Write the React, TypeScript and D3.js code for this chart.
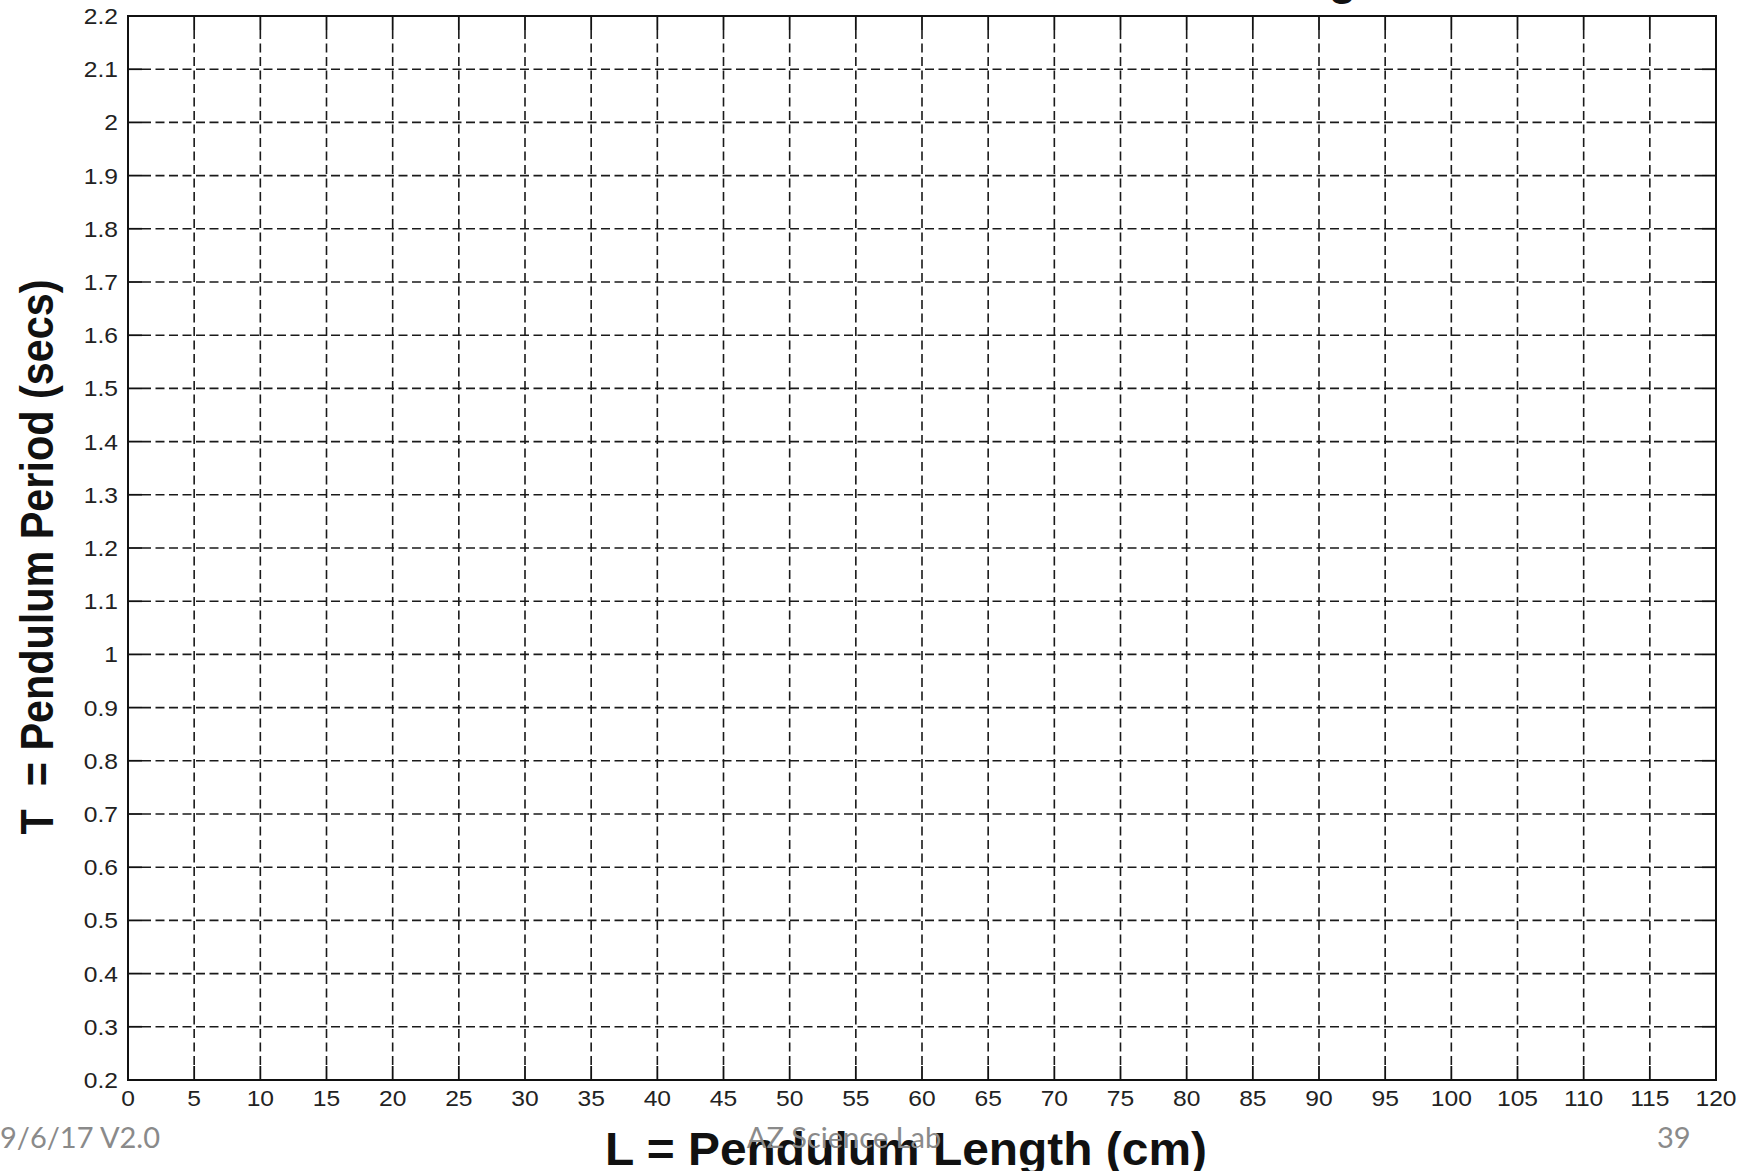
import { useEffect, useRef } from "react";
import * as d3 from "d3";

// axis values
const xTicks = [0, 5, 10, 15, 20, 25, 30, 35, 40, 45, 50, 55, 60, 65, 70, 75, 80, 85, 90, 95, 100, 105, 110, 115, 120];
const yTicks = [0.2, 0.3, 0.4, 0.5, 0.6, 0.7, 0.8, 0.9, 1, 1.1, 1.2, 1.3, 1.4, 1.5, 1.6, 1.7, 1.8, 1.9, 2, 2.1, 2.2];
const xTitle = "L = Pendulum Length (cm)";
const yTitle = "T  = Pendulum Period (secs)";
const topTitle = "Pendulum Period vs. Length";
const footerLeft = "9/6/17 V2.0";
const footerMid = "AZ Science Lab";
const footerRight = "39";

const W = 1756, H = 1171;
const M = { left: 128, right: 40, top: 16, bottom: 91 };
const SANS = "'Liberation Sans', Arial, Helvetica, sans-serif";

export default function App() {
  const ref = useRef<SVGSVGElement>(null);

  useEffect(() => {
    const el = ref.current;
    if (!el) return;
    const svg = d3.select(el);
    svg.selectAll("*").remove();

    const x = d3.scaleLinear().domain([0, 120]).range([M.left, W - M.right]);
    const y = d3.scaleLinear().domain([0.2, 2.2]).range([H - M.bottom, M.top]);
    const [x0, x1] = x.range();
    const [y0, y1] = y.range();
    const tickLen = 14;

    svg.append("rect").attr("width", W).attr("height", H).attr("fill", "#fff");

    // clipped title at the very top (only its descender shows)
    svg.append("text").attr("x", 1400).attr("y", -6).attr("text-anchor", "end")
      .attr("font-family", SANS).attr("font-weight", "bold").attr("font-size", 46).attr("fill", "#111")
      .text(topTitle);

    // dashed grid
    const g = svg.append("g");
    g.selectAll("line.vg").data(xTicks.slice(1, -1)).join("line")
      .attr("x1", (d) => x(d)).attr("x2", (d) => x(d)).attr("y1", y1 + tickLen).attr("y2", y0 - tickLen)
      .attr("stroke", "#1a1a1a").attr("stroke-width", 1.6).attr("stroke-dasharray", "9,4.5");
    g.selectAll("line.hg").data(yTicks.slice(1, -1)).join("line")
      .attr("y1", (d) => y(d)).attr("y2", (d) => y(d)).attr("x1", x0 + tickLen).attr("x2", x1 - tickLen)
      .attr("stroke", "#1a1a1a").attr("stroke-width", 1.6).attr("stroke-dasharray", "9,4.5");

    // solid ticks on all four sides
    const t = svg.append("g").attr("stroke", "#111").attr("stroke-width", 1.8);
    xTicks.forEach((d) => {
      t.append("line").attr("x1", x(d)).attr("x2", x(d)).attr("y1", y0).attr("y2", y0 - tickLen);
      t.append("line").attr("x1", x(d)).attr("x2", x(d)).attr("y1", y1).attr("y2", y1 + tickLen);
    });
    yTicks.forEach((d) => {
      t.append("line").attr("y1", y(d)).attr("y2", y(d)).attr("x1", x0).attr("x2", x0 + tickLen);
      t.append("line").attr("y1", y(d)).attr("y2", y(d)).attr("x1", x1).attr("x2", x1 - tickLen);
    });

    // frame
    svg.append("rect").attr("x", x0).attr("y", y1).attr("width", x1 - x0).attr("height", y0 - y1)
      .attr("fill", "none").attr("stroke", "#111").attr("stroke-width", 2);

    // tick labels (slightly stretched like the original raster)
    svg.append("g").selectAll("text").data(xTicks).join("text")
      .attr("transform", (d) => `translate(${x(d)},${y0 + 26}) scale(1.12,1)`)
      .attr("text-anchor", "middle").attr("font-family", SANS).attr("font-size", 22).attr("fill", "#222")
      .text((d) => String(d));
    svg.append("g").selectAll("text").data(yTicks).join("text")
      .attr("transform", (d) => `translate(${x0 - 10},${y(d) + 8}) scale(1.12,1)`)
      .attr("text-anchor", "end").attr("font-family", SANS).attr("font-size", 22).attr("fill", "#222")
      .text((d) => String(d));

    // axis titles
    svg.append("text").attr("x", 605).attr("y", 1165)
      .attr("font-family", SANS).attr("font-weight", "bold").attr("font-size", 46).attr("fill", "#111")
      .attr("textLength", 602).attr("lengthAdjust", "spacingAndGlyphs").text(xTitle);
    svg.append("text").attr("transform", "translate(53,557) rotate(-90)").attr("text-anchor", "middle")
      .attr("style", "white-space: pre")
      .attr("font-family", SANS).attr("font-weight", "bold").attr("font-size", 46).attr("fill", "#111")
      .attr("textLength", 555).attr("lengthAdjust", "spacingAndGlyphs").text(yTitle);

    // slide footer
    const foot = svg.append("g").attr("font-family", "Lato, 'Open Sans', sans-serif").attr("font-size", 29).attr("fill", "#8a8a8a");
    foot.append("text").attr("x", 0).attr("y", 1148).text(footerLeft);
    foot.append("text").attr("x", 844).attr("y", 1148).attr("text-anchor", "middle").text(footerMid);
    foot.append("text").attr("x", 1657).attr("y", 1148).text(footerRight);
  }, []);

  return (
    <svg ref={ref} width={W} height={H} viewBox={`0 0 ${W} ${H}`}
      style={{ position: "absolute", left: 0, top: 0, display: "block" }} />
  );
}
